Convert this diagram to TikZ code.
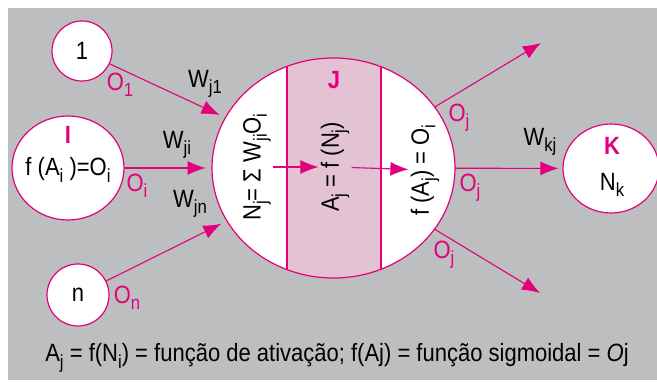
\documentclass[tikz,border=0pt]{standalone}
\usepackage{fontspec}
\setmainfont[FakeStretch=0.88]{Liberation Sans}
\usetikzlibrary{arrows.meta,shapes.geometric}
\definecolor{magen}{HTML}{E4007C}
\definecolor{bggray}{HTML}{BCBEC0}
\definecolor{bandpink}{HTML}{E3C2D3}
\newcommand\sbs[1]{\raisebox{-3.2pt}{\fontsize{9.5}{10}\selectfont #1}}
\begin{document}
\begin{tikzpicture}[x=0.5pt,y=-0.5pt,>={Latex[length=9pt,width=7pt]},
    font=\fontsize{12.5}{14}\selectfont,
    neuron/.style={draw=magen,line width=0.6pt,fill=white,inner sep=0pt},
    syn/.style={->,draw=magen,line width=0.55pt},
    olab/.style={text=magen},
    tag/.style={text=magen,font=\fontsize{12.5}{14}\selectfont\bfseries}]
        \useasboundingbox (0,0) rectangle (657,384);
        \clip (0,0) rectangle (657,384);
        \fill[white] (0,0) rectangle (657,384);
        \fill[bggray] (8,8) rectangle (657,380);
        % input neurons
        \node[neuron,circle,minimum size=30pt] (n1) at (82,51) {1};
        \node[neuron,ellipse,minimum width=56pt,minimum height=52pt] (ni) at (68,168) {};
        \node[neuron,circle,minimum size=31pt] (nn) at (78,295) {n};
        % neuron J
        \node[fill=white,ellipse,minimum width=121.5pt,minimum height=110pt,inner sep=0pt] (nj) at (333.5,168) {};
        \begin{scope}
            \clip (nj.center) ellipse [x radius=60.75pt, y radius=55pt];
            \fill[bandpink] (287,50) rectangle (381,290);
            \draw[magen,line width=0.6pt] (287,50)--(287,290) (381,50)--(381,290);
        \end{scope}
        \draw[magen,line width=0.6pt] (nj.center) ellipse [x radius=60.75pt, y radius=55pt];
        % neuron K
        \node[neuron,ellipse,minimum width=48pt,minimum height=44.5pt] (nk) at (611,168.5) {};
        % texts
        \node[tag] (ti) at (68,135) {I};
        \node (fi) at (68,170) {f (A\sbs{i} )=O\sbs{i}};
        \node[olab] (o1) at (120,85) {O\sbs{1}};
        \node (wj1) at (205,84) {W\sbs{j1}};
        \node[olab] (oi) at (137,186) {O\sbs{i}};
        \node (wji) at (177,145) {W\sbs{ji}};
        \node (wjn) at (190,204) {W\sbs{jn}};
        \node[olab] (on) at (127,298) {O\sbs{n}};
        \node[tag] (tj) at (334,80) {J};
        \node[rotate=90,inner sep=1pt] (nsum) at (257,167) {N\sbs{j}= Σ W\sbs{ji}O\sbs{i}};
        \node[rotate=90,inner sep=1pt] (aj) at (335,167) {A\sbs{j} = f (N\sbs{j})};
        \node[rotate=90,inner sep=1pt] (fa) at (425,170) {f (A\sbs{j}) = O\sbs{i}};
        \node[olab] (oja) at (459,118) {O\sbs{j}};
        \node (wkj) at (540,142) {W\sbs{kj}};
        \node[olab] (ojb) at (470,188) {O\sbs{j}};
        \node[olab] (ojc) at (444,255) {O\sbs{j}};
        \node[tag] (tk) at (612,146) {K};
        \node (nkt) at (612,185) {N\sbs{k}};
        \node (cap) at (337,358) {A\sbs{j} = f(N\sbs{i}) = função de ativação; f(Aj) = função sigmoidal = \textit{O}j};
        % connections
        \coordinate (outa) at (541,43);
        \coordinate (outc) at (540,293);
        \draw[syn,shorten >=3pt] (n1)--(nj);
        \draw[syn,shorten >=3pt] (ni)--(nj);
        \draw[syn,shorten >=3pt] (nn)--(nj);
        \draw[syn] (nsum)--(aj);
        \draw[syn] (aj)--(fa);
        \draw[syn] (nj)--(outa);
        \draw[syn,shorten >=2pt] (nj)--(nk);
        \draw[syn] (nj)--(outc);
\end{tikzpicture}
\end{document}
